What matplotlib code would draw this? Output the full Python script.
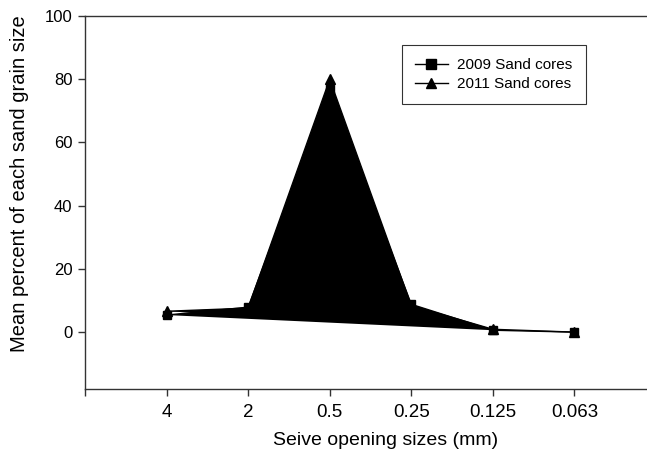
import matplotlib.pyplot as plt

plt.rcParams["font.family"] = ["Liberation Sans", "DejaVu Sans"]

sieve_labels = ["4", "2", "0.5", "0.25", "0.125", "0.063"]
sand_2009 = [5.4, 7.9, 77.0, 8.8, 0.6, 0.0]
sand_2011 = [6.6, 7.6, 80.0, 8.4, 0.9, 0.0]

positions = list(range(1, len(sieve_labels) + 1))

fig = plt.figure(figsize=(6.47, 4.55), dpi=100)
ax = fig.add_axes([0.1314, 0.145, 0.8825, 0.8198])

# filled area between the first five points of each series (as in the original)
for values in (sand_2009, sand_2011):
    ax.fill(positions[:5], values[:5], color="black", lw=0)

ax.plot(positions, sand_2009, color="black", lw=1, marker="s", ms=6,
        label="2009 Sand cores")
ax.plot(positions, sand_2011, color="black", lw=1, marker="^", ms=6.5,
        label="2011 Sand cores")

ax.set_xlim(0, 7)
ax.set_ylim(-18, 100)
ax.set_xticks(range(0, 8))
ax.set_xticklabels([""] + sieve_labels + [""], fontsize=13.5)
ax.set_yticks(range(0, 101, 20))
ax.tick_params(axis="y", labelsize=12, direction="out", length=5, width=1,
               color="#333333", pad=4)
ax.tick_params(axis="x", direction="out", length=5, width=1, pad=6,
               color="#333333")
ax.spines["right"].set_visible(False)
for side in ("left", "bottom", "top"):
    ax.spines[side].set_linewidth(1)
    ax.spines[side].set_color("#333333")

ax.set_xlabel("Seive opening sizes (mm)", fontsize=14, va="center")
ax.xaxis.set_label_coords(0.527, -0.137)
ax.set_ylabel("Mean percent of each sand grain size", fontsize=14.5, va="center")
ax.yaxis.set_label_coords(-0.114, 0.55)

leg = fig.legend(loc="center", bbox_to_anchor=(0.763, 0.836), fontsize=11,
                 frameon=True, fancybox=False, edgecolor="black",
                 borderpad=0.85, handlelength=2.2, borderaxespad=0,
                 labelspacing=0.3, markerscale=1.1, handletextpad=0.6)
leg.get_frame().set_linewidth(0.8)

fig.savefig("out.png", dpi=100)
